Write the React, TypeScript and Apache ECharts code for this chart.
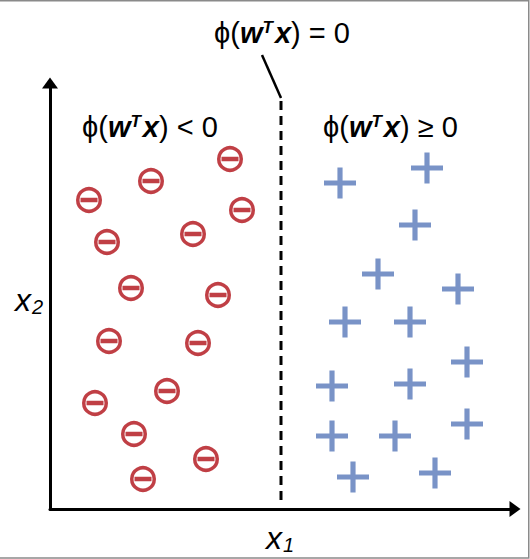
import React, { useEffect, useRef } from "react";
import * as echarts from "echarts";

// Class "negative" (⊖) points, in chart units
const negX = [180, 101, 39, 192, 57, 143, 81, 168, 59, 148, 117, 45, 84, 156, 93];
const negY = [350, 328, 309, 299, 267, 275, 221, 214, 168, 166, 118, 106, 75, 50, 30];
// Class "positive" (+) points
const posX = [290, 377, 365, 328, 408, 295, 360, 417, 282, 360, 417, 282, 345, 303, 385];
const posY = [326, 341, 284, 235, 220, 187, 187, 147, 123, 125, 85, 73, 73, 32, 36];
// Decision boundary (dashed) and the pointer line to its label
const boundaryX = [231, 231];
const boundaryY = [9, 409];
const pointerX = [212, 231];
const pointerY = [454, 411];

const X_MAX = 465;
const Y_MAX = 426;

const RED = "#b00f17";
const BLUE = "#5878b9";
const FONT = "'Liberation Sans', Arial, 'DejaVu Sans', sans-serif";

const zip = (a: number[], b: number[]) => a.map((v, i) => [v, b[i]]);

export default function App() {
  const ref = useRef<HTMLDivElement>(null);
  useEffect(() => {
    if (!ref.current) return;
    const chart = echarts.init(ref.current, undefined, { renderer: "svg" });
    const rich = {
      n: { fontSize: 29, fontFamily: FONT, color: "#000" },
      b: { fontSize: 29, fontFamily: FONT, fontWeight: "bold", fontStyle: "italic", color: "#000" },
      s: { fontSize: 17, fontFamily: FONT, fontStyle: "italic", fontWeight: "bold", color: "#000", verticalAlign: "top", padding: [0, 2, 12, 0] },
      v: { fontSize: 32, fontFamily: FONT, fontStyle: "italic", color: "#000" },
      sub: { fontSize: 20, fontFamily: FONT, fontStyle: "italic", color: "#000", padding: [13, 0, 0, 1] },
    };
    const label = (text: string, x: number, y: number, align = "center") => ({
      type: "text",
      x,
      y,
      style: { text, rich, textAlign: align, textVerticalAlign: "middle" },
    });
    chart.setOption({
      animation: false,
      grid: { left: 50, right: 15, top: 83, bottom: 50 },
      xAxis: {
        type: "value",
        min: 0,
        max: X_MAX,
        axisLine: { show: true, symbol: ["none", "triangle"], symbolSize: [16, 11], lineStyle: { color: "#000", width: 3 } },
        axisTick: { show: false },
        axisLabel: { show: false },
        splitLine: { show: false },
      },
      yAxis: {
        type: "value",
        min: 0,
        max: Y_MAX,
        axisLine: { show: true, symbol: ["none", "triangle"], symbolSize: [16, 11], lineStyle: { color: "#000", width: 3 } },
        axisTick: { show: false },
        axisLabel: { show: false },
        splitLine: { show: false },
      },
      series: [
        {
          type: "line",
          data: zip(boundaryX, boundaryY),
          symbol: "none",
          lineStyle: { color: "#000", width: 3, type: [9, 6] },
        },
        {
          type: "line",
          data: zip(pointerX, pointerY),
          symbol: "none",
          clip: false,
          lineStyle: { color: "#000", width: 2.5 },
        },
        {
          type: "scatter",
          data: zip(negX, negY),
          symbol: "circle",
          symbolSize: 22.5,
          itemStyle: { color: "#fff", borderColor: RED, borderWidth: 3.5 },
        },
        {
          type: "scatter",
          data: zip(negX, negY),
          symbol: "rect",
          symbolSize: [17, 4.5],
          itemStyle: { color: RED },
        },
        {
          type: "scatter",
          data: zip(posX, posY),
          symbol: "path://M13,0h5v13h13v5h-13v13h-5v-13h-13v-5h13z",
          symbolSize: [32, 31],
          itemStyle: { color: BLUE },
        },
      ],
      graphic: [
        {
          type: "polyline",
          shape: { points: [[0, 0.75], [528.75, 0.75], [528.75, 558], [0, 558]] },
          style: { stroke: "#8a8a8a", lineWidth: 1.5, fill: "none" },
        },
        label("{n|ϕ(}{b|w}{s|T}{b|x}{n|) = 0}", 282, 33),
        label("{n|ϕ(}{b|w}{s|T}{b|x}{n|) < 0}", 82, 127, "left"),
        label("{n|ϕ(}{b|w}{s|T}{b|x}{n|) ≥ 0}", 323, 127, "left"),
        label("{v|x}{sub|1}", 280, 538),
        label("{v|x}{sub|2}", 29, 300),
      ],
    });
    return () => chart.dispose();
  }, []);
  return (
    <div
      ref={ref}
      style={{ position: "fixed", left: 0, top: 0, width: 530, height: 559, background: "#fff" }}
    />
  );
}
